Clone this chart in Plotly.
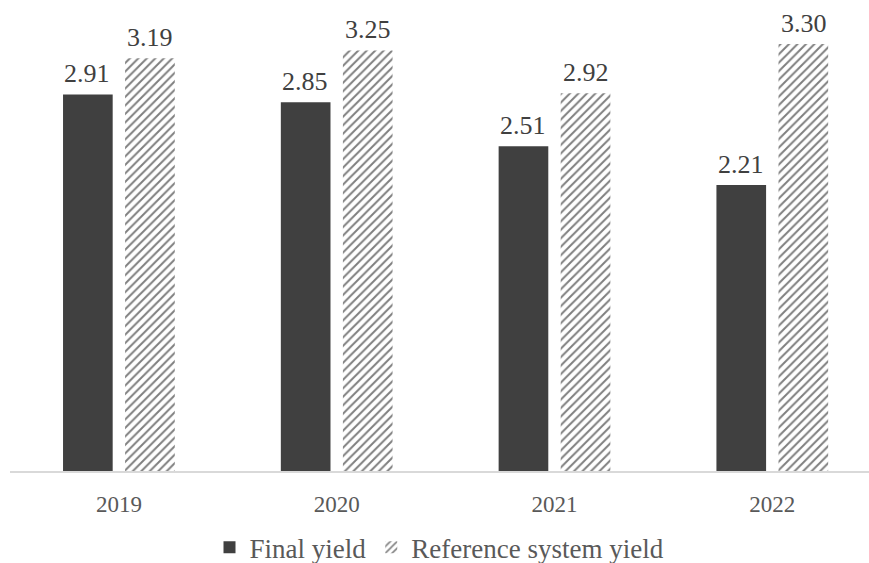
import plotly.graph_objects as go

years = ["2019", "2020", "2021", "2022"]
final_yield = [2.91, 2.85, 2.51, 2.21]
reference_yield = [3.19, 3.25, 2.92, 3.30]

serif = "Liberation Serif"
text_gray = "#595959"
label_font = dict(family=serif, size=26, color="#404040")

fig = go.Figure()
fig.add_trace(go.Bar(
    name="Final yield",
    x=years, y=final_yield,
    marker=dict(color="#404040", line=dict(width=0)),
))
fig.add_trace(go.Bar(
    name="Reference system yield",
    x=years, y=reference_yield,
    marker=dict(
        color="white",
        line=dict(width=0),
        pattern=dict(shape="/", fgcolor="black", bgcolor="white", size=6, solidity=0.33),
    ),
))

# value labels above each bar, offset to the bar's slot within the group
for values, dx in ((final_yield, -31.5), (reference_yield, 31.5)):
    for i, v in enumerate(values):
        fig.add_annotation(
            x=i, y=v, xref="x", yref="y",
            text=f"{v:.2f}", showarrow=False,
            xshift=dx, yshift=4, yanchor="bottom",
            font=label_font,
        )

fig.update_layout(
    width=869, height=563,
    margin=dict(l=10, r=0, t=0, b=92, autoexpand=False),
    paper_bgcolor="white", plot_bgcolor="white",
    barmode="group", bargap=0.43, bargroupgap=0.2,
    showlegend=True,
    legend=dict(
        orientation="h", x=0.5, xanchor="center",
        yref="container", y=0.027, yanchor="middle",
        font=dict(family=serif, size=27, color=text_gray),
        itemwidth=30, traceorder="normal",
    ),
    xaxis=dict(
        type="category",
        range=[-0.5, 3.444],
        showline=True, linecolor="#d9d9d9", linewidth=1.5,
        showgrid=False, zeroline=False, ticks="",
        ticklabelstandoff=12,
        tickfont=dict(family=serif, size=23, color=text_gray),
    ),
    yaxis=dict(range=[0, 3.64], visible=False),
)

fig.write_html("out.html")
